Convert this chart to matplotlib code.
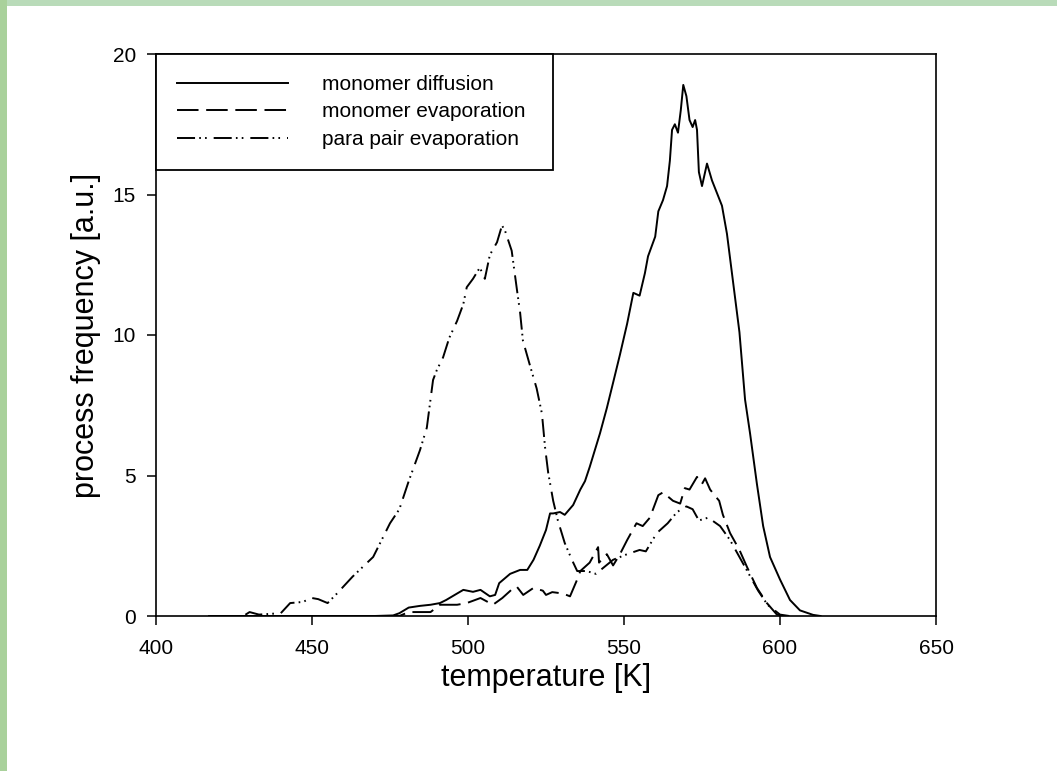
import matplotlib
matplotlib.use("Agg")
import matplotlib.pyplot as plt
from matplotlib.patches import Rectangle

plt.rcParams['font.family'] = ['Liberation Sans', 'DejaVu Sans']
plt.rcParams['lines.scale_dashes'] = False

# ---- data ----
diff_T = [417, 470, 476, 478, 481, 484.6, 488, 491, 493, 496.5, 498.5, 501.6, 504, 507, 508.7,
          510, 513.5, 516.7, 519, 521, 523, 525, 526.3, 527.3, 529.5, 531, 533.7, 536, 537.5,
          539, 542.3, 544.5, 546.5, 548.7, 551, 553, 555, 556.7, 557.7, 560, 561, 562.5, 563.8,
          564.7, 565.4, 566.3, 567.3, 568.2, 569, 570, 571, 572, 572.8, 573.4, 574, 575, 576.6,
          578.2, 579.8, 581.4, 583, 585, 587, 588.8, 590.4, 592.6, 594.6, 596.8, 600, 603.2,
          606.4, 610.6, 613]
diff_v = [0, 0, 0.02, 0.1, 0.3, 0.36, 0.4, 0.46, 0.57, 0.8, 0.93, 0.86, 0.93, 0.7, 0.75,
          1.17, 1.5, 1.64, 1.64, 2.0, 2.5, 3.06, 3.65, 3.65, 3.7, 3.6, 3.95, 4.5, 4.8,
          5.3, 6.5, 7.4, 8.3, 9.3, 10.4, 11.5, 11.4, 12.2, 12.8, 13.5, 14.4, 14.8, 15.3,
          16.2, 17.3, 17.5, 17.2, 18.0, 18.9, 18.5, 17.65, 17.4, 17.65, 17.3, 15.8, 15.3, 16.1,
          15.5, 15.05, 14.6, 13.6, 11.85, 10.1, 7.7, 6.5, 4.7, 3.2, 2.1, 1.3, 0.57,
          0.2, 0.04, 0]

evap_T = [417, 478, 481, 488, 491, 496.5, 499.6, 504, 508, 511, 514.6, 515.6, 517.7, 521, 524,
          525, 527, 530.4, 532.7, 535, 536, 539, 541.7, 542, 544.5, 546.5, 548.7, 551, 554, 556,
          558.3, 561, 562.5, 565.7, 568, 569.5, 571, 573.4, 575, 576, 577.6, 579, 580.5, 581.7,
          584, 587, 589.4, 592.6, 595.8, 599, 602]
evap_v = [0, 0, 0.14, 0.14, 0.4, 0.4, 0.46, 0.64, 0.4, 0.64, 1.0, 1.05, 0.75, 1.0, 0.9,
          0.75, 0.85, 0.8, 0.7, 1.3, 1.6, 1.9, 2.45, 1.9, 2.2, 1.8, 2.2, 2.7, 3.3, 3.2,
          3.5, 4.3, 4.4, 4.1, 4.0, 4.55, 4.5, 4.95, 4.7, 4.9, 4.5, 4.3, 4.1, 3.6,
          2.95, 2.35, 1.75, 1.0, 0.46, 0.05, 0]

para_T = [417, 428, 430, 433, 440, 443, 447, 450, 452, 455, 458, 463, 469.6, 475, 478, 481,
          484.6, 486.8, 488.8, 490, 492, 494, 496.5, 498.5, 499.6, 501.6, 503.8, 505.4, 507,
          509.3, 510.9, 511.9, 514, 515.7, 516.7, 517.6, 519.9, 522, 523.7, 524.7, 525.7, 527.3,
          528.8, 531, 533.3, 535, 538, 541, 546.5, 551, 555, 557, 560.5, 564, 567, 570, 572,
          574, 577, 580.8, 584, 587, 590, 593, 596, 600, 603]
para_v = [0, 0, 0.14, 0.05, 0.1, 0.46, 0.5, 0.64, 0.6, 0.46, 0.8, 1.4, 2.1, 3.3, 3.8, 4.8,
          5.9, 6.7, 8.4, 8.75, 9.2, 9.9, 10.5, 11.1, 11.7, 12.0, 12.4, 12.0, 12.85,
          13.3, 13.9, 13.7, 13.0, 11.6, 10.8, 9.8, 8.9, 8.1, 7.2, 6.0, 5.1, 4.1,
          3.4, 2.6, 2.0, 1.6, 1.6, 1.5, 2.0, 2.2, 2.35, 2.3, 2.95, 3.3, 3.7, 3.9, 3.8,
          3.4, 3.5, 3.2, 2.7, 2.1, 1.5, 0.9, 0.4, 0.05, 0]

labels = ["monomer diffusion", "monomer evaporation", "para pair evaporation"]
x_ticks = [400, 450, 500, 550, 600, 650]
y_ticks = [0, 5, 10, 15, 20]

# ---- figure ----
fig = plt.figure(figsize=(10.57, 7.71), dpi=100)
fig.patch.set_facecolor('white')
# green textured border strips (top and left)
fig.add_artist(Rectangle((0, 1 - 6 / 771), 1, 6 / 771, transform=fig.transFigure,
                         facecolor='#b9dbb9', edgecolor='none', zorder=0))
fig.add_artist(Rectangle((0, 0), 7 / 1057, 1, transform=fig.transFigure,
                         facecolor='#a9d19b', edgecolor='none', zorder=0))

ax = fig.add_axes([156 / 1057, 155 / 771, 780 / 1057, 562 / 771])

lw = 1.4
ax.plot(diff_T, diff_v, color='black', lw=lw, linestyle='-', label=labels[0])
ax.plot(evap_T, evap_v, color='black', lw=lw, linestyle=(0, (15.5, 5.5)), label=labels[1])
ax.plot(para_T, para_v, color='black', lw=lw,
        linestyle=(0, (13, 3, 1.2, 3, 1.2, 5)), label=labels[2])

ax.set_xlim(400, 650)
ax.set_ylim(0, 20)
ax.set_xticks(x_ticks)
ax.set_yticks(y_ticks)
ax.tick_params(direction='out', length=6.5, width=1.1, labelsize=15, colors='black',
               top=False, right=False)
ax.tick_params(axis='x', pad=10)
ax.tick_params(axis='y', pad=8)
for s in ax.spines.values():
    s.set_linewidth(1.2)
    s.set_color('black')

ax.set_xlabel("temperature [K]", fontsize=22, labelpad=4)
ax.set_ylabel("process frequency [a.u.]", fontsize=22, labelpad=8)

leg = ax.legend(loc='upper left', bbox_to_anchor=(0, 1, 397 / 780, 0), mode='expand',
                borderaxespad=0, fontsize=15, frameon=True, fancybox=False,
                handlelength=5.35, handletextpad=1.6, labelspacing=0.41, borderpad=1.0)
leg.get_frame().set_edgecolor('black')
leg.get_frame().set_linewidth(1.3)
leg.get_frame().set_alpha(1)

fig.savefig("out.png", dpi=100, facecolor=fig.get_facecolor())
